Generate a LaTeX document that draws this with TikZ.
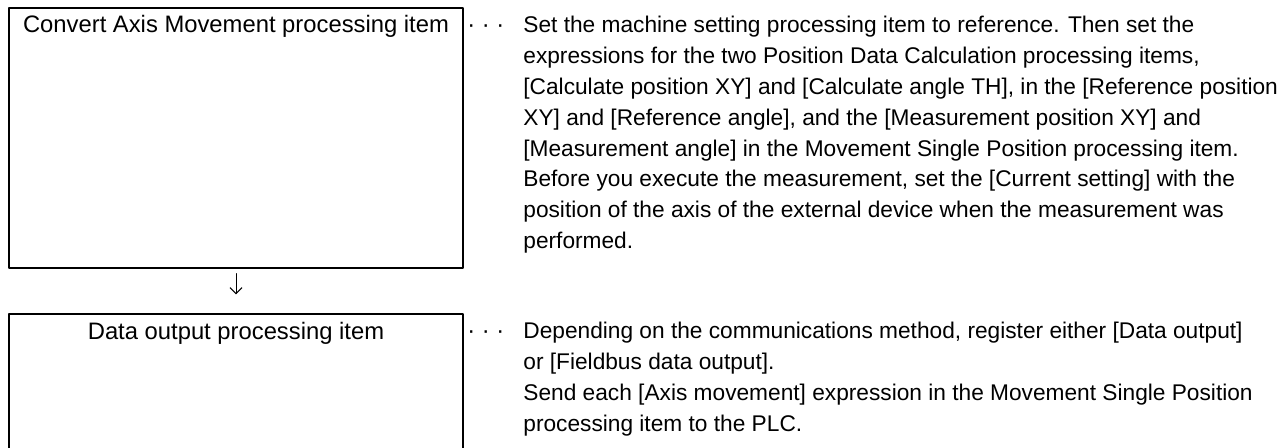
\documentclass[tikz,border=0pt]{standalone}
\usepackage{fontspec}
\setmainfont{Liberation Sans}
\usetikzlibrary{arrows.meta}
\tikzset{
  box/.style={draw,line width=0.7pt,minimum width=227pt,inner sep=0pt},
  boxtitle/.style={anchor=base,inner sep=0pt},
  desc/.style={anchor=base west,align=left,inner sep=0pt,font=\fontsize{11.35pt}{15.4pt}\selectfont},
  leader/.style={anchor=base west,inner sep=0pt},
}
\begin{document}
\begin{tikzpicture}[x=0.5pt,y=-0.5pt,line cap=round,line join=round,font=\fontsize{11.9pt}{15.4pt}\selectfont]
  \useasboundingbox (0,0) rectangle (1280,448);
  % processing item boxes
  \node[box,minimum height=130pt] (conv) at (236,138) {};
  \node[box,minimum height=69pt] (dout) at (236,383) {};
  \node[boxtitle] (convt) at (236,33) {Convert Axis Movement processing item};
  \node[boxtitle] (doutt) at (236,340) {Data output processing item};
  \draw[line width=0.5pt,-{Straight Barb[length=3pt,width=6pt]},shorten <=2.5pt,shorten >=9.5pt] (conv) -- (dout);
  % explanations (base = last line)
  \node[leader] (convd) at (467,33) {· · ·};
  \node[leader] (doutd) at (467,339) {· · ·};
  \node[desc] (convx) at (523,248.6) {Set the machine setting processing item to reference. Then set the\\
    expressions for the two Position Data Calculation processing items,\\
    {[}Calculate position XY] and [Calculate angle TH], in the [Reference position\\
    XY] and [Reference angle], and the [Measurement position XY] and\\
    {[}Measurement angle] in the Movement Single Position processing item.\\
    Before you execute the measurement, set the [Current setting] with the\\
    position of the axis of the external device when the measurement was\\
    performed.};
  \node[desc] (doutx) at (523,431.4) {Depending on the communications method, register either [Data output]\\
    or [Fieldbus data output].\\
    Send each [Axis movement] expression in the Movement Single Position\\
    processing item to the PLC.};
\end{tikzpicture}
\end{document}
